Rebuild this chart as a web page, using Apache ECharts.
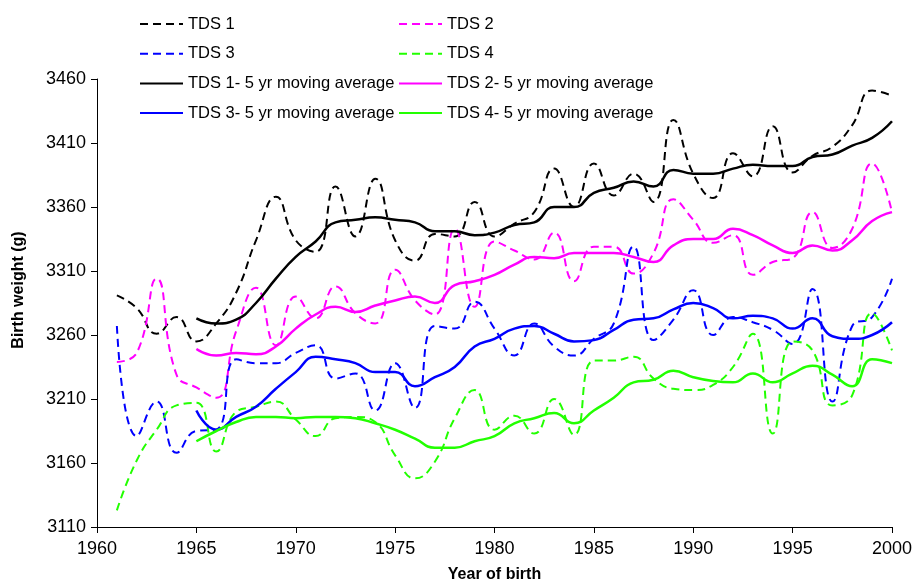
<!DOCTYPE html>
<html>
<head>
<meta charset="utf-8">
<script src="https://cdn.jsdelivr.net/npm/echarts@6/dist/echarts.min.js"></script>
<style>
html,body{margin:0;padding:0;background:#fff;}
#c{width:919px;height:586px;}
</style>
</head>
<body>
<div id="c"></div>
<script>
var years = [1961,1962,1963,1964,1965,1966,1967,1968,1969,1970,1971,1972,1973,1974,1975,1976,1977,1978,1979,1980,1981,1982,1983,1984,1985,1986,1987,1988,1989,1990,1991,1992,1993,1994,1995,1996,1997,1998,1999,2000];
var maYears = [1965,1966,1967,1968,1969,1970,1971,1972,1973,1974,1975,1976,1977,1978,1979,1980,1981,1982,1983,1984,1985,1986,1987,1988,1989,1990,1991,1992,1993,1994,1995,1996,1997,1998,1999,2000];

var tds1 = [3291,3281,3261,3274,3255,3269,3293,3334,3368,3334,3325,3376,3337,3382,3334,3318,3339,3337,3364,3337,3347,3356,3390,3360,3394,3369,3386,3364,3428,3386,3367,3402,3384,3423,3387,3400,3407,3424,3451,3447];
var tds2 = [3239,3246,3304,3229,3219,3211,3263,3297,3252,3290,3273,3298,3277,3269,3311,3287,3276,3343,3282,3333,3326,3319,3340,3302,3329,3329,3308,3324,3366,3350,3332,3338,3307,3317,3320,3356,3328,3343,3394,3356];
var tds3 = [3267,3181,3208,3168,3185,3186,3241,3238,3238,3246,3252,3226,3230,3201,3238,3203,3267,3265,3286,3265,3244,3269,3251,3244,3257,3269,3329,3256,3272,3295,3260,3274,3270,3264,3253,3296,3208,3267,3274,3304];
var tds4 = [3123,3162,3186,3205,3207,3169,3200,3204,3208,3194,3181,3195,3196,3192,3166,3148,3161,3195,3217,3186,3197,3183,3210,3182,3240,3240,3243,3226,3218,3217,3221,3235,3261,3183,3255,3248,3205,3213,3277,3248];

var tds1MA = [3273,3269,3272,3285,3304,3321,3333,3348,3350,3352,3350,3348,3341,3341,3338,3340,3346,3348,3360,3360,3371,3375,3380,3376,3389,3386,3386,3390,3393,3392,3392,3399,3401,3408,3414,3427];
var tds2MA = [3249,3244,3246,3245,3251,3265,3276,3282,3278,3283,3287,3290,3285,3299,3302,3307,3315,3321,3320,3324,3324,3324,3321,3317,3330,3335,3335,3343,3338,3330,3324,3330,3326,3334,3349,3356];
var tds3MA = [3201,3186,3196,3204,3218,3231,3243,3241,3238,3231,3231,3220,3227,3235,3251,3257,3265,3267,3261,3255,3256,3264,3272,3273,3280,3285,3281,3273,3275,3273,3265,3273,3259,3257,3260,3270];
var tds4MA = [3177,3185,3192,3196,3196,3195,3196,3196,3195,3191,3186,3179,3172,3172,3177,3181,3191,3195,3199,3191,3201,3211,3223,3225,3232,3227,3224,3223,3230,3223,3230,3236,3229,3220,3241,3238];

var names = ['TDS 1','TDS 2','TDS 3','TDS 4','TDS 1- 5 yr moving average','TDS 2- 5 yr moving average','TDS 3- 5 yr moving average','TDS 4- 5 yr moving average'];
var colors = ['#000000','#ff00ff','#0000ff','#22ff00'];

function pairs(xs, ys){ return xs.map(function(x,i){ return [x, ys[i]]; }); }

var raw = [tds1, tds2, tds3, tds4];
var ma = [tds1MA, tds2MA, tds3MA, tds4MA];
var series = [];
for (var i = 0; i < 4; i++) {
  series.push({
    name: names[i], type: 'line', data: pairs(years, raw[i]), smooth: 0.5,
    symbol: 'none', lineStyle: {color: colors[i], width: 2, type: [8,5]},
    itemStyle: {color: colors[i]}, z: 2
  });
}
for (var j = 0; j < 4; j++) {
  series.push({
    name: names[4+j], type: 'line', data: pairs(maYears, ma[j]), smooth: 0.5,
    symbol: 'none', lineStyle: {color: colors[j], width: 2.5, type: 'solid'},
    itemStyle: {color: colors[j]}, z: 3
  });
}

var legendBase = {
  orient: 'vertical', top: 14, padding: 0, itemWidth: 43, itemHeight: 20, itemGap: 9.7,
  itemStyle: {opacity: 0},
  textStyle: {fontFamily: 'Liberation Sans', fontSize: 16.5, color: '#000', lineHeight: 20},
  selectedMode: false
};

function plain(v){ return String(v); }

var chart = echarts.init(document.getElementById('c'));
chart.setOption({
  animation: false,
  backgroundColor: '#fff',
  grid: {left: 97, right: 27, top: 79, bottom: 59, containLabel: false, outerBoundsMode: 'none'},
  legend: [
    Object.assign({}, legendBase, {left: 139, data: [names[0], names[2], names[4], names[6]]}),
    Object.assign({}, legendBase, {left: 398, data: [names[1], names[3], names[5], names[7]]})
  ],
  xAxis: {
    type: 'value', min: 1960, max: 2000, interval: 5,
    name: 'Year of birth', nameLocation: 'middle', nameGap: 40,
    nameTextStyle: {fontFamily: 'Liberation Sans', fontSize: 16, fontWeight: 'bold', color: '#000'},
    axisLine: {show: true, lineStyle: {color: '#000', width: 1}},
    axisTick: {show: true, inside: false, length: 6, lineStyle: {color: '#000'}},
    axisLabel: {fontFamily: 'Liberation Sans', fontSize: 18, color: '#000', margin: 13, formatter: plain},
    splitLine: {show: false}
  },
  yAxis: {
    type: 'value', min: 3110, max: 3460, interval: 50,
    name: 'Birth weight (g)', nameLocation: 'middle', nameGap: 70, nameRotate: 90,
    nameTextStyle: {fontFamily: 'Liberation Sans', fontSize: 16, fontWeight: 'bold', color: '#000', padding: [0,0,0,26]},
    axisLine: {show: true, lineStyle: {color: '#000', width: 1}},
    axisTick: {show: true, inside: false, length: 6, lineStyle: {color: '#000'}},
    axisLabel: {fontFamily: 'Liberation Sans', fontSize: 18, color: '#000', margin: 11, formatter: plain},
    splitLine: {show: false}
  },
  series: series
});
</script>
</body>
</html>
